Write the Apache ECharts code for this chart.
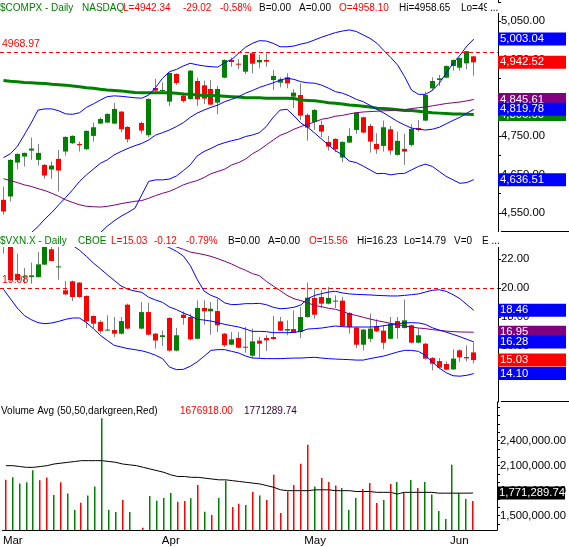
<!DOCTYPE html>
<html>
<head>
<meta charset="utf-8">
<title>$COMPX / $VXN.X daily</title>
<script src="https://cdn.jsdelivr.net/npm/echarts@6.0.0/dist/echarts.min.js"></script>
<style>
  html, body { margin: 0; padding: 0; background: #fff; }
  #chart { width: 569px; height: 547px; }
</style>
</head>
<body>
<div id="chart"></div>
<script>
// trading days (index 19 is the empty Good Friday slot)
var dates = ['2016-02-29','2016-03-01','2016-03-02','2016-03-03','2016-03-04','2016-03-07','2016-03-08','2016-03-09','2016-03-10','2016-03-11',
  '2016-03-14','2016-03-15','2016-03-16','2016-03-17','2016-03-18','2016-03-21','2016-03-22','2016-03-23','2016-03-24','2016-03-25',
  '2016-03-28','2016-03-29','2016-03-30','2016-03-31','2016-04-01','2016-04-04','2016-04-05','2016-04-06','2016-04-07','2016-04-08',
  '2016-04-11','2016-04-12','2016-04-13','2016-04-14','2016-04-15','2016-04-18','2016-04-19','2016-04-20','2016-04-21','2016-04-22',
  '2016-04-25','2016-04-26','2016-04-27','2016-04-28','2016-04-29','2016-05-02','2016-05-03','2016-05-04','2016-05-05','2016-05-06',
  '2016-05-09','2016-05-10','2016-05-11','2016-05-12','2016-05-13','2016-05-16','2016-05-17','2016-05-18','2016-05-19','2016-05-20',
  '2016-05-23','2016-05-24','2016-05-25','2016-05-26','2016-05-27','2016-05-31','2016-06-01','2016-06-02','2016-06-03'];
var padDates = ['2016-06-06','2016-06-07','2016-06-08'];
var weekTickIdx = [0,5,10,15,20,25,30,35,40,45,50,55,60,65,70];
var monthIdx = [1, 24, 45, 66];
var monthNames = ['Mar', 'Apr', 'May', 'Jun'];

// $COMPX
var compxOpen = [4583.9,4592.6,4681.1,4696.8,4712.4,4688.1,4675.1,4662.9,4690.7,4709.8,
  4731.4,4729.7,4715.9,4750.6,4782.7,4785.3,4782.7,4813.9,4774.0,null,
  4784.4,4752.3,4875.6,4867.7,4840.0,4912.0,4855.6,4846.9,4893.8,4882.5,
  4873.0,4837.4,4902.5,4948.5,4938.9,4918.1,4966.0,4942.4,4948.5,4896.4,
  4889.5,4903.3,4853.0,4857.3,4805.3,4787.0,4779.2,4735.0,4742.8,4694.2,
  4733.2,4766.2,4799.2,4776.6,4729.7,4724.5,4767.9,4701.1,4716.7,4727.1,
  4771.4,4790.5,4874.7,4896.4,4902.5,4932.8,4928.5,4939.8,4958.10];
var compxHigh = [4618.6,4689.8,4705.4,4707.2,4746.2,4729.7,4676.8,4683.7,4714.1,4749.7,
  4752.3,4735.8,4765.3,4785.3,4799.2,4809.6,4836.5,4815.7,4775.7,null,
  4787.9,4848.7,4899.0,4890.3,4916.4,4913.8,4864.3,4922.4,4902.5,4894.7,
  4896.4,4880.8,4950.2,4955.4,4950.2,4963.2,4968.97,4962.0,4965.8,4922.4,
  4903.3,4913.8,4872.1,4887.7,4809.6,4820.9,4790.5,4750.6,4744.5,4736.7,
  4770.5,4813.1,4800.9,4781.8,4757.5,4790.5,4776.6,4761.9,4755.8,4781.0,
  4792.2,4866.0,4903.3,4909.4,4934.6,4950.2,4955.4,4972.5,4958.65];
var compxLow = [4545.0,4579.6,4663.8,4670.7,4688.1,4673.3,4638.6,4638.6,4605.6,4699.4,
  4729.7,4709.8,4714.1,4735.8,4780.9,4783.6,4780.9,4760.1,4733.2,null,
  4756.7,4747.1,4861.7,4861.7,4828.7,4883.4,4837.4,4845.2,4828.7,4833.9,
  4830.4,4807.0,4900.7,4931.1,4924.2,4912.0,4913.8,4926.8,4931.1,4870.4,
  4877.3,4874.7,4822.6,4792.2,4738.4,4766.2,4747.1,4712.4,4708.0,4682.0,
  4731.4,4755.8,4757.5,4707.2,4703.7,4709.8,4701.1,4699.4,4675.1,4722.8,
  4761.9,4788.8,4868.6,4880.8,4900.7,4920.7,4920.7,4924.2,4907.7];
var compxClose = [4553.5,4688.1,4703.7,4706.3,4717.6,4706.3,4647.3,4673.3,4660.3,4748.0,
  4750.6,4726.3,4763.6,4773.1,4794.8,4807.9,4820.9,4767.9,4741.9,null,
  4764.5,4846.9,4868.6,4870.4,4914.6,4888.6,4841.7,4920.7,4846.1,4847.8,
  4832.2,4873.0,4948.5,4943.3,4936.3,4961.5,4938.9,4948.5,4944.1,4906.8,
  4898.1,4887.7,4863.4,4803.5,4772.3,4818.3,4761.9,4722.8,4715.9,4735.0,
  4750.6,4811.3,4759.3,4735.8,4715.9,4773.1,4712.4,4737.6,4709.8,4768.8,
  4766.2,4857.3,4893.8,4900.7,4932.8,4948.5,4953.7,4971.54,4942.52];
var compxBBUpper = [4694,4704,4723,4753,4784,4818,4821,4821,4816,4808,
  4807,4811,4825,4834,4844,4853,4855,4854,4852,4850,
  4849,4857,4877,4901,4918,4924,4933,4940,4936,4933,
  4931,4930,4942,4950,4966,4982,4992,4999,4998,4992,
  4983,4983,4985,4990,4994,5001,5008,5014,5020,5024,
  5027,5023,5014,5005,4992,4973,4955,4935,4905,4870,
  4859,4859,4869,4888,4914,4940,4961,4985,5003.04];
var compxBBMid = [null,null,null,null,4498,4514,4534,4551,4571,4590,
  4610,4632,4649,4664,4679,4688,4701,4710,4718,4725,
  4731,4740,4753,4759,4766,4775,4785,4799,4810,4818,
  4825,4831,4840,4846,4853,4862,4869,4877,4883,4889,
  4896,4901,4898,4892,4889,4888,4883,4875,4866,4862,
  4855,4846,4840,4830,4820,4810,4799,4788,4779,4771,
  4768,4766,4768,4773,4782,4791,4799,4810,4819.78];
var compxBBLower = [null,null,null,null,null,null,null,null,null,null,
  null,null,null,null,4498,4515,4529,4541,4551,4562,
  4597,4632,4636,4636,4638,4646,4660,4675,4698,4710,
  4718,4727,4733,4738,4742,4749,4753,4759,4775,4799,
  4818,4820,4803,4784,4773,4758,4742,4727,4712,4701,
  4685,4681,4672,4662,4652,4653,4649,4652,4653,4662,
  4671,4677,4671,4658,4645,4636,4627,4629,4636.51];
var compxMa50 = [4639,4634,4629,4623,4619,4613,4608,4601,4593,4584,
  4577,4571,4567,4566,4565,4567,4570,4574,4577,4580,
  4582,4588,4595,4601,4606,4614,4623,4629,4634,4642,
  4652,4658,4664,4675,4681,4690,4704,4714,4727,4740,
  4752,4759,4768,4775,4781,4787,4794,4797,4802,4804,
  4808,4811,4813,4814,4815,4816,4817,4818,4819,4822,
  4824,4826,4829,4832,4835,4837,4839,4842,4845.61];
var compxMa200 = [4895,4893,4892,4890,4889,4888,4887,4885,4884,4883,
  4881,4879,4876,4875,4872,4870,4869,4868,4866,4864,
  4863,4863,4863,4863,4863,4862,4860,4859,4857,4856,
  4856,4855,4854,4853,4852,4850,4850,4850,4849,4849,
  4849,4849,4848,4844,4843,4842,4840,4837,4836,4834,
  4831,4830,4828,4826,4823,4822,4821,4819,4817,4817,
  4815,4813,4811,4810,4809,4808,4808,4807,4806.60];
var compxLevel = 4968.97;

// $VXN.X
var vxnOpen = [23.30,23.30,20.97,20.76,20.76,20.76,21.61,22.67,21.47,19.84,
  20.46,20.37,19.45,18.07,17.66,17.06,17.10,16.85,18.85,null,
  17.20,18.34,16.85,16.62,17.93,15.68,18.16,18.00,16.50,18.62,
  18.39,18.41,16.85,16.09,16.55,15.95,15.33,16.37,16.55,16.62,
  17.70,17.06,17.17,16.96,18.00,19.31,19.38,18.92,19.08,19.13,
  18.28,17.26,16.09,16.50,17.36,17.06,16.50,17.72,17.24,17.43,
  16.23,16.16,15.17,14.96,14.76,14.39,15.70,15.24,15.56];
var vxnHigh = [24.20,23.50,22.37,21.38,21.75,22.48,23.20,23.00,23.00,20.48,
  20.51,20.41,19.49,18.11,17.77,18.11,18.00,18.00,18.92,null,
  19.03,18.99,16.90,17.06,17.98,17.24,18.39,18.23,19.15,19.15,
  19.03,19.26,16.90,16.96,16.96,17.31,17.20,16.62,16.74,18.07,
  18.00,17.77,18.46,18.69,20.37,19.95,19.84,20.07,19.49,19.38,
  18.32,17.31,17.17,18.23,17.84,17.43,18.00,18.00,19.20,17.47,
  17.24,16.21,15.24,15.17,14.94,15.77,15.77,16.05,16.23];
var vxnLow = [22.37,20.45,20.41,20.30,20.30,20.71,21.60,21.86,20.57,19.49,
  19.10,19.33,17.24,17.20,16.85,17.03,16.62,16.80,17.15,null,
  17.15,16.74,15.82,16.00,15.63,15.63,17.47,16.39,16.46,17.47,
  16.78,16.96,15.93,16.05,15.84,15.54,15.17,15.17,15.65,16.44,
  17.03,16.74,16.90,16.55,17.95,17.88,18.62,18.87,18.62,17.33,
  16.85,15.86,15.70,16.28,16.96,15.77,16.46,16.50,17.20,16.18,
  16.18,15.08,14.32,14.46,14.32,14.35,14.90,14.94,14.79];
var vxnClose = [23.60,20.53,20.53,20.80,20.87,21.63,23.00,21.86,21.49,19.56,
  19.38,19.38,17.70,17.54,17.03,17.13,16.85,17.72,17.20,null,
  18.34,16.78,16.38,16.74,15.68,16.74,17.93,16.46,18.62,18.39,
  18.57,17.43,16.05,16.46,15.88,15.91,16.32,16.16,16.39,16.48,
  17.06,17.17,16.92,18.00,19.33,18.16,18.92,19.31,19.13,17.38,
  17.31,16.09,17.13,17.20,17.01,16.23,17.54,17.24,17.77,16.23,
  16.74,15.13,14.78,14.51,14.37,15.13,15.22,15.15,15.03];
var vxnBBUpper = [null,null,null,null,null,null,null,null,null,null,
  null,null,null,null,null,null,null,null,null,null,
  null,null,null,23.00,22.78,22.53,22.21,21.56,20.60,19.79,
  19.49,19.31,18.97,18.85,18.87,18.92,18.92,18.94,18.85,18.67,
  18.57,18.60,18.67,18.83,19.26,19.49,19.61,19.72,19.77,19.66,
  19.59,19.56,19.54,19.52,19.49,19.47,19.45,19.45,19.49,19.54,
  19.59,19.72,19.84,19.88,19.77,19.54,19.26,18.85,18.46];
var vxnBBMid = [null,null,null,null,null,null,null,null,null,23.30,
  22.94,22.60,22.18,21.72,21.33,20.92,20.53,20.14,19.91,19.79,
  19.70,19.36,19.17,19.01,18.69,18.51,18.28,18.09,17.84,17.79,
  17.72,17.61,17.49,17.40,17.31,17.17,17.01,17.01,16.99,16.92,
  16.92,16.92,16.94,17.01,17.17,17.20,17.24,17.31,17.38,17.33,
  17.31,17.31,17.31,17.31,17.33,17.40,17.47,17.54,17.59,17.61,
  17.59,17.49,17.26,17.10,16.96,16.80,16.64,16.46,16.28];
var vxnBBLower = [19.91,19.26,18.62,18.11,17.82,17.61,17.54,17.59,17.70,17.84,
  17.93,17.93,17.61,17.20,16.74,16.39,16.05,15.93,15.82,15.75,
  15.67,15.54,15.36,15.13,14.55,14.37,14.39,14.60,14.90,15.29,
  15.70,15.75,15.75,15.63,15.52,15.31,15.17,15.15,15.13,15.13,
  15.13,15.15,15.17,15.17,15.20,15.22,15.17,15.13,15.10,15.08,
  15.06,15.03,15.03,15.13,15.22,15.31,15.45,15.59,15.70,15.70,
  15.63,15.36,14.90,14.48,14.16,13.95,13.92,13.98,14.10];
var vxnMa50 = [null,null,null,null,null,null,null,null,null,null,
  null,null,null,null,null,null,null,null,null,null,
  null,null,null,null,23.00,22.83,22.67,22.48,22.39,22.30,
  22.18,22.02,21.84,21.65,21.42,21.22,20.99,20.85,20.46,20.14,
  19.82,19.49,19.26,19.13,18.97,18.80,18.71,18.60,18.53,18.39,
  18.21,18.11,17.98,17.86,17.75,17.66,17.56,17.47,17.38,17.31,
  17.24,17.20,17.13,17.08,17.03,16.99,16.97,16.96,16.95];
var vxnLevel = 19.98;

// volume
var volume = [1930000,1960000,1885000,1901000,2046000,1925000,1957000,1749000,1901000,1765000,
  1568000,1656000,1741000,1849000,2669000,1568000,1544000,1688000,1544000,null,
  1356000,1736000,1680000,1712000,1772000,1668000,1676000,1709000,1869000,1548000,
  1508000,1712000,1918000,1604000,1644000,1628000,1785000,1741000,1688000,1990000,
  1532000,1789000,1869000,2122000,2351000,1849000,1953000,1905000,1861000,1833000,
  1568000,1712000,1821000,1893000,1652000,1688000,1881000,1905000,1777000,1929000,
  1833000,1905000,1753000,1556000,1460000,2110000,1772000,1700000,1676918];
var volumeUp = [0,1,1,1,1,0,0,1,0,1, 1,0,1,1,1,1,1,0,1,null,
  0,1,1,1,1,0,0,1,0,1, 0,1,1,0,0,1,0,1,0,0,
  0,0,0,0,0,1,0,0,0,1, 1,1,0,0,0,1,0,1,0,1,
  0,1,1,1,1,1,1,1,0];
var volumeMa50 = [2100000,2100000,2090000,2080000,2080000,2090000,2100000,2120000,2130000,2140000,
  2150000,2160000,2160000,2160000,2160000,2150000,2140000,2120000,2110000,2100000,
  2080000,2060000,2040000,2020000,1990000,1970000,1970000,1960000,1960000,1950000,
  1940000,1930000,1930000,1920000,1910000,1900000,1890000,1880000,1860000,1840000,
  1810000,1800000,1800000,1800000,1800000,1810000,1810000,1810000,1800000,1800000,
  1800000,1790000,1790000,1790000,1780000,1780000,1780000,1760000,1780000,1780000,
  1780000,1780000,1780000,1770000,1770000,1770000,1770000,1770000,1771289.74];

// axis ticks / labels
var compxTicks = [4550,4600,4650,4700,4750,4800,4850,4900,4950,5000,5050,5100];
var compxLabels = [4550,4650,4750,4850,4950,5050];
var vxnTicks = [14,16,18,20,22];
var vxnLabels = [14,16,18,20,22];
var volTicks = [1400000,1500000,1600000,1700000,1800000,1900000,2000000,2100000,2200000,2300000,2400000,2500000,2600000,2700000,2800000];
var volLabels = [1500000,1800000,2100000,2400000];

var FONT = '"Liberation Sans", Arial, sans-serif';
var GREEN = '#008000', RED = '#ff0000', BLUE = '#0000ff', PURPLE = '#800080';
var HEAD_SIZE = 10;
var last = dates.length - 1;

function fmt2(v) {
  return v.toLocaleString('en-US', {minimumFractionDigits: 2, maximumFractionDigits: 2});
}

function candleData(o, h, l, c) {
  var out = [];
  for (var i = 0; i < o.length; i++) {
    if (o[i] == null) continue;
    out.push([i, o[i], c[i], l[i], h[i]]);
  }
  return out;
}

function renderCandle(params, api) {
  var i = api.value(0);
  var o = api.value(1), c = api.value(2);
  var pO = api.coord([i, o]), pC = api.coord([i, c]);
  var pL = api.coord([i, api.value(3)]), pH = api.coord([i, api.value(4)]);
  var x0 = Math.round(pO[0] - 2.5);
  var top = Math.min(pO[1], pC[1]), bot = Math.max(pO[1], pC[1]);
  return {
    type: 'group',
    children: [
      {type: 'line', shape: {x1: x0 + 2.5, y1: pH[1], x2: x0 + 2.5, y2: pL[1]}, style: {stroke: '#808080', lineWidth: 1}},
      {type: 'rect', shape: {x: x0, y: top, width: 5, height: Math.max(bot - top, 1)}, style: {fill: c >= o ? GREEN : RED}}
    ]
  };
}

function renderVolume(params, api) {
  var p = api.coord([api.value(0), api.value(1)]);
  var base = params.coordSys.y + params.coordSys.height;
  return {
    type: 'rect',
    shape: {x: Math.round(p[0]) - 1, y: p[1], width: 1.5, height: base - p[1]},
    style: {fill: api.value(2) ? GREEN : RED}
  };
}

var boxBase = {color: '#fff', fontSize: 11.3, fontFamily: FONT, width: 66, padding: [1, 0, 1, 2], lineHeight: 12};
var richStyles = {
  n: {color: '#000', fontSize: 11.3, fontFamily: FONT, padding: [0, 0, 0, 3]},
  blue: Object.assign({backgroundColor: BLUE}, boxBase),
  red: Object.assign({backgroundColor: RED}, boxBase),
  purple: Object.assign({backgroundColor: PURPLE}, boxBase),
  green: Object.assign({backgroundColor: GREEN}, boxBase),
  black: Object.assign({backgroundColor: '#000'}, boxBase)
};

function valueAxis(grid, min, max, ticks, labels, tags) {
  return {
    type: 'value', gridIndex: grid, position: 'right', min: min, max: max,
    splitLine: {show: false},
    axisLine: {show: true, onZero: false, lineStyle: {color: '#000', width: 1}},
    axisTick: {show: true, length: 3, lineStyle: {color: '#000'}, customValues: ticks},
    axisLabel: {
      margin: 0, hideOverlap: false,
      customValues: labels.concat(tags.map(function (t) { return t[0]; })),
      formatter: function (v) {
        for (var k = 0; k < tags.length; k++) {
          if (Math.abs(tags[k][0] - v) < 1e-6) return '{' + tags[k][1] + '|' + fmt2(v) + '}';
        }
        return '{n|' + fmt2(v) + '}';
      },
      rich: richStyles
    }
  };
}

function lineSeries(xi, data, color, width, extra) {
  var s = {
    type: 'line', xAxisIndex: xi, yAxisIndex: xi, data: data, symbol: 'none', z: 3,
    lineStyle: {color: color, width: width}, silent: true
  };
  return Object.assign(s, extra || {});
}

function levelLine(value) {
  return {
    silent: true, symbol: 'none',
    lineStyle: {color: RED, type: [4, 3], width: 1},
    label: {show: true, position: 'insideStartTop', formatter: String(value), color: RED,
      fontSize: 10.5, fontFamily: FONT, distance: [2, 3]},
    data: [{yAxis: value}]
  };
}

function headerText(x, y, text, color, extra) {
  return Object.assign({type: 'text', x: x, y: y, z: 100,
    style: {text: text, fill: color, fontSize: HEAD_SIZE, fontFamily: FONT, verticalAlign: 'middle'}}, extra || {});
}

var cats = dates.concat(padDates);
var volData = [];
for (var i = 0; i < volume.length; i++) {
  if (volume[i] != null) volData.push([i, volume[i], volumeUp[i]]);
}

var option = {
  animation: false,
  backgroundColor: '#fff',
  grid: [
    {left: -1, right: 68, top: 0, height: 232},
    {left: -1, right: 68, top: 232, height: 170},
    {left: -1, right: 68, top: 402, height: 128}
  ],
  xAxis: [
    {type: 'category', gridIndex: 0, data: cats, boundaryGap: true, show: false},
    {type: 'category', gridIndex: 1, data: cats, boundaryGap: true, show: false},
    {type: 'category', gridIndex: 2, data: cats, boundaryGap: true,
      axisLine: {onZero: false, lineStyle: {color: '#000', width: 1}},
      axisTick: {alignWithLabel: true, length: 3, lineStyle: {color: '#000'},
        interval: function (idx) { return weekTickIdx.indexOf(idx) >= 0; }},
      axisLabel: {
        interval: function (idx) { return monthIdx.indexOf(idx) >= 0; },
        formatter: function (v, idx) { var k = monthIdx.indexOf(idx); return k >= 0 ? monthNames[k] : ''; },
        color: '#000', fontSize: 11.5, fontFamily: FONT, margin: 5
      }
    }
  ],
  yAxis: [
    valueAxis(0, 4500, 5105, compxTicks, compxLabels, [
      [compxBBUpper[last], 'blue'], [compxClose[last], 'red'], [compxMa50[last], 'purple'],
      [compxMa200[last], 'green'], [compxBBMid[last], 'blue'], [compxBBLower[last], 'blue']]),
    valueAxis(1, 12.14, 23.86, vxnTicks, vxnLabels, [
      [vxnBBUpper[last], 'blue'], [vxnMa50[last], 'purple'], [vxnBBMid[last], 'blue'],
      [vxnClose[last], 'red'], [vxnBBLower[last], 'blue']]),
    valueAxis(2, 1328000, 2864000, volTicks, volLabels, [
      [volumeMa50[last], 'black'], [volume[last], 'red']])
  ],
  series: [
    {type: 'custom', xAxisIndex: 0, yAxisIndex: 0, renderItem: renderCandle, clip: true, z: 2,
      encode: {x: 0, y: [1, 2, 3, 4]}, data: candleData(compxOpen, compxHigh, compxLow, compxClose)},
    lineSeries(0, compxMa200, GREEN, 3),
    lineSeries(0, compxMa50, PURPLE, 1),
    lineSeries(0, compxBBUpper, BLUE, 1, {markLine: levelLine(compxLevel)}),
    lineSeries(0, compxBBMid, BLUE, 1),
    lineSeries(0, compxBBLower, BLUE, 1),

    {type: 'custom', xAxisIndex: 1, yAxisIndex: 1, renderItem: renderCandle, clip: true, z: 2,
      encode: {x: 0, y: [1, 2, 3, 4]}, data: candleData(vxnOpen, vxnHigh, vxnLow, vxnClose)},
    lineSeries(1, vxnMa50, PURPLE, 1),
    lineSeries(1, vxnBBUpper, BLUE, 1, {markLine: levelLine(vxnLevel)}),
    lineSeries(1, vxnBBMid, BLUE, 1),
    lineSeries(1, vxnBBLower, BLUE, 1),

    {type: 'custom', xAxisIndex: 2, yAxisIndex: 2, renderItem: renderVolume, clip: true, z: 2,
      encode: {x: 0, y: 1}, data: volData},
    lineSeries(2, volumeMa50, '#000', 1)
  ],
  graphic: {elements: [
    // panel headers
    headerText(0, 8, '$COMPX - Daily', GREEN),
    headerText(82, 8, 'NASDAQ', GREEN),
    headerText(123, 8, 'L=4942.34', RED),
    headerText(183, 8, '-29.02', RED),
    headerText(220, 8, '-0.58%', RED),
    headerText(259, 8, 'B=0.00', '#000'),
    headerText(299, 8, 'A=0.00', '#000'),
    headerText(339, 8, 'O=4958.10', RED),
    headerText(399, 8, 'Hi=4958.65', '#000'),
    headerText(461, 8, 'Lo=49', '#000'),
    headerText(487, 8, '...', '#000', {z: 101, style: {text: '...', fill: '#000', fontSize: HEAD_SIZE, fontFamily: FONT,
      verticalAlign: 'middle', backgroundColor: '#fff', padding: [0, 2, 0, 3]}}),

    {type: 'rect', z: 99, shape: {x: 0, y: 232, width: 500, height: 15}, style: {fill: '#fff'}},
    headerText(0, 241.5, '$VXN.X - Daily', GREEN),
    headerText(78, 241.5, 'CBOE', GREEN),
    headerText(111, 241.5, 'L=15.03', RED),
    headerText(154, 241.5, '-0.12', RED),
    headerText(186, 241.5, '-0.79%', RED),
    headerText(228, 241.5, 'B=0.00', '#000'),
    headerText(268, 241.5, 'A=0.00', '#000'),
    headerText(309, 241.5, 'O=15.56', RED),
    headerText(357, 241.5, 'Hi=16.23', '#000'),
    headerText(404, 241.5, 'Lo=14.79', '#000'),
    headerText(454, 241.5, 'V=0', '#000'),
    headerText(482, 241.5, 'E ...', '#000'),

    headerText(1, 411.5, 'Volume Avg (50,50,darkgreen,Red)', '#000'),
    headerText(180, 411.5, '1676918.00', RED),
    headerText(244, 411.5, '1771289.74', '#300030'),

    // panel separators in the price-scale column
    {type: 'line', z: 100, shape: {x1: 501, y1: 231.5, x2: 569, y2: 231.5}, style: {stroke: '#000', lineWidth: 1}},
    {type: 'line', z: 100, shape: {x1: 501, y1: 401.5, x2: 569, y2: 401.5}, style: {stroke: '#000', lineWidth: 1}}
  ]}
};

var chart = echarts.init(document.getElementById('chart'));
chart.setOption(option);
</script>
</body>
</html>
